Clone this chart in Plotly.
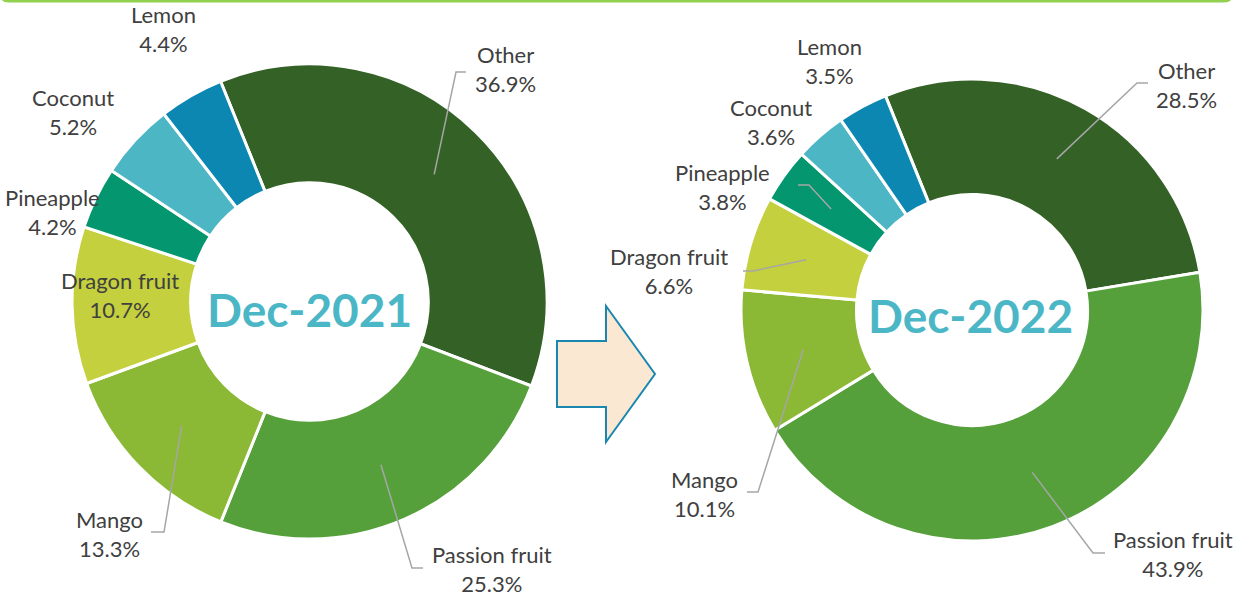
import math
import plotly.graph_objects as go

# ---------------- data ----------------
categories = ["Other", "Passion fruit", "Mango", "Dragon fruit", "Pineapple", "Coconut", "Lemon"]
share_2021 = [36.9, 25.3, 13.3, 10.7, 4.2, 5.2, 4.4]
share_2022 = [28.5, 43.9, 10.1, 6.6, 3.8, 3.6, 3.5]
period_labels = ["Dec-2021", "Dec-2022"]

# ---------------- style / layout ----------------
colors = ["#346126", "#55A03B", "#8BB835", "#C4D03E", "#03966F", "#4DB6C5", "#0C87B2"]
W, H = 1236, 597
ROT = -22
HOLE = 0.5
LABEL_FONT = dict(family="Lato, 'Open Sans', sans-serif", size=22, color="#404040")
CENTER_FONT = dict(family="Lato, 'Open Sans', sans-serif", size=46, color="#4BB7C6")

# donut geometry in pixels: centre x, centre y, outer radius
donuts = [(309.5, 301.5, 237.5), (972.0, 310.0, 231.0)]
# label block centres (pixels)
label_pos = [
    [(505, 69), (492, 569), (109, 534), (120, 295), (52, 212), (73, 112), (163, 29)],
    [(1186, 85), (1173, 554), (704, 494), (669, 271), (722, 187), (771, 122), (829, 61)],
]
# leader lines: slice index -> (elbow x, elbow y, end x)
leaders = [
    {0: (456, 72, 466), 1: (412, 568, 423), 2: (164, 532, 151)},
    {0: (1137, 83, 1148), 1: (1093, 553, 1105), 2: (758, 492, 747),
     3: (753, 271, 743), 4: (809, 185, 798)},
]
center_text_pos = [(309.5, 309), (970.5, 315)]

fig = go.Figure()
shapes = []
annotations = []

for k, vals in enumerate([share_2021, share_2022]):
    cx, cy, r = donuts[k]
    fig.add_trace(go.Pie(
        labels=categories, values=vals, sort=False, direction="clockwise",
        rotation=ROT, hole=HOLE, textinfo="none", hoverinfo="label+percent",
        marker=dict(colors=colors, line=dict(color="white", width=3)),
        domain=dict(x=[(cx - r) / W, (cx + r) / W], y=[(H - cy - r) / H, (H - cy + r) / H]),
        showlegend=False,
    ))
    total = sum(vals)
    rmid = r * (1 + HOLE) / 2
    cum = 0.0
    for i, (name, v) in enumerate(zip(categories, vals)):
        mid = ROT + 360.0 * (cum + v / 2) / total
        cum += v
        lx, ly = label_pos[k][i]
        annotations.append(dict(
            x=lx, y=ly, xref="x", yref="y", text=f"{name}<br>{v:.1f}%",
            showarrow=False, font=LABEL_FONT, align="center",
            xanchor="center", yanchor="middle",
        ))
        if i in leaders[k]:
            ex, ey, endx = leaders[k][i]
            sx = cx + rmid * math.sin(math.radians(mid))
            sy = cy - rmid * math.cos(math.radians(mid))
            shapes.append(dict(
                type="path", xref="x", yref="y",
                path=f"M {sx:.1f},{sy:.1f} L {ex},{ey} L {endx},{ey}",
                line=dict(color="#A6A6A6", width=1.5),
            ))
    tx, ty = center_text_pos[k]
    annotations.append(dict(
        x=tx, y=ty, xref="x", yref="y", text=f"<b>{period_labels[k]}</b>",
        showarrow=False, font=CENTER_FONT, xanchor="center", yanchor="middle",
    ))

# arrow between the donuts
shapes.append(dict(
    type="path", xref="x", yref="y",
    path="M 557,341 L 606,341 L 606,306 L 655,374 L 606,442 L 606,407 L 557,407 Z",
    fillcolor="#FBE8D2", line=dict(color="#1A87B0", width=2), layer="above",
))
# top rounded box edge
shapes.append(dict(
    type="path", xref="x", yref="y",
    path="M 1,-30 L 1,-7 Q 1,1 9,1 L 1224,1 Q 1232,1 1232,-7 L 1232,-30",
    line=dict(color="#92D050", width=3),
))

fig.update_layout(
    width=W, height=H, margin=dict(l=0, r=0, t=0, b=0),
    paper_bgcolor="white", plot_bgcolor="rgba(0,0,0,0)",
    xaxis=dict(range=[0, W], visible=False, fixedrange=True),
    yaxis=dict(range=[H, 0], visible=False, fixedrange=True),
    shapes=shapes, annotations=annotations,
)
fig.write_html(
    "out.html",
    config={"displayModeBar": False},
    post_script="document.body.style.margin='0';document.body.style.overflow='hidden';",
)
